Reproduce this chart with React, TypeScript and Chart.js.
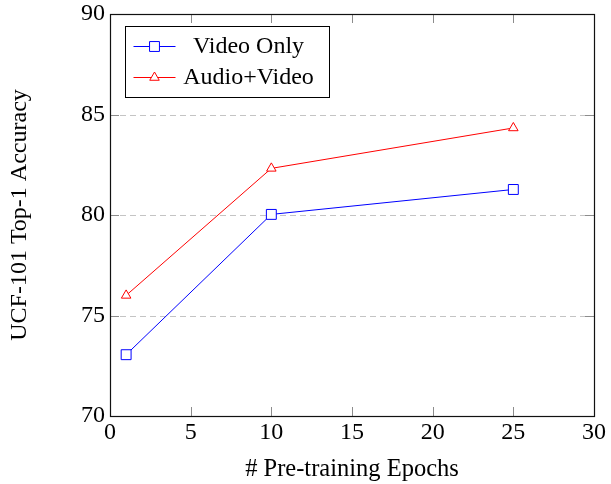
import React, { useEffect, useRef } from "react";
import { Chart, registerables } from "chart.js";
import { drawPoint } from "chart.js/helpers";

Chart.register(...registerables);

const epochs = [1, 10, 25];
const videoOnly = [73.05, 80.03, 81.27];
const audioVideo = [76.0, 82.32, 84.33];
const seriesLabels = ["Video Only", "Audio+Video"];
const xTitle = "# Pre-training Epochs";
const yTitle = "UCF-101 Top-1 Accuracy";

const FONT = '"Liberation Serif", "Times New Roman", serif';

const framePlugin = {
  id: "frame",
  beforeDatasetsDraw(chart: any) {
    const { ctx, chartArea, scales } = chart;
    const { left, right, top, bottom } = chartArea;
    const x = scales.x;
    const y = scales.y;
    ctx.save();
    ctx.lineWidth = 1;
    ctx.strokeStyle = "#c4c4c4";
    ctx.setLineDash([6, 4]);
    y.ticks.forEach((t: any) => {
      if (t.value <= y.min || t.value >= y.max) return;
      const py = Math.round(y.getPixelForValue(t.value)) + 0.5;
      ctx.beginPath();
      ctx.moveTo(left, py);
      ctx.lineTo(right, py);
      ctx.stroke();
    });
    ctx.setLineDash([]);
    ctx.strokeStyle = "#8c8c8c";
    const tl = 9;
    x.ticks.forEach((t: any) => {
      if (t.value <= x.min || t.value >= x.max) return;
      const px = Math.round(x.getPixelForValue(t.value)) + 0.5;
      ctx.beginPath();
      ctx.moveTo(px, bottom);
      ctx.lineTo(px, bottom - tl);
      ctx.moveTo(px, top);
      ctx.lineTo(px, top + tl);
      ctx.stroke();
    });
    y.ticks.forEach((t: any) => {
      if (t.value <= y.min || t.value >= y.max) return;
      const py = Math.round(y.getPixelForValue(t.value)) + 0.5;
      ctx.beginPath();
      ctx.moveTo(left, py);
      ctx.lineTo(left + tl, py);
      ctx.moveTo(right, py);
      ctx.lineTo(right - tl, py);
      ctx.stroke();
    });
    ctx.strokeStyle = "#111";
    ctx.lineWidth = 1.2;
    ctx.strokeRect(
      Math.round(left) + 0.5,
      Math.round(top) + 0.5,
      Math.round(right) - Math.round(left),
      Math.round(bottom) - Math.round(top)
    );
    ctx.restore();
  },
  afterDraw(chart: any) {
    const { ctx, chartArea } = chart;
    const bx = Math.round(chartArea.left) + 15.5;
    const by = Math.round(chartArea.top) + 12.5;
    const bw = 204;
    const bh = 71;
    ctx.save();
    ctx.fillStyle = "#fff";
    ctx.fillRect(bx, by, bw, bh);
    ctx.strokeStyle = "#000";
    ctx.lineWidth = 1;
    ctx.strokeRect(bx, by, bw, bh);
    chart.data.datasets.forEach((ds: any, i: number) => {
      const ry = by + 20 + i * 31;
      ctx.strokeStyle = ds.borderColor;
      ctx.lineWidth = 1;
      ctx.beginPath();
      ctx.moveTo(bx + 8, ry);
      ctx.lineTo(bx + 50, ry);
      ctx.stroke();
      ctx.fillStyle = "#fff";
      ctx.strokeStyle = ds.borderColor;
      drawPoint(ctx, { pointStyle: ds.pointStyle, radius: ds.pointRadius, borderWidth: 1, rotation: 0 }, bx + 29, ry);
      ctx.fillStyle = "#000";
      ctx.font = "24px " + FONT;
      ctx.textBaseline = "middle";
      ctx.textAlign = "center";
      ctx.fillText(ds.label, bx + 123, ry);
    });
    ctx.restore();
  },
};

export default function App() {
  const ref = useRef<HTMLCanvasElement | null>(null);
  useEffect(() => {
    if (!ref.current) return;
    const tickFont = { family: FONT, size: 24, lineHeight: 1 };
    const chart = new Chart(ref.current, {
      type: "line",
      data: {
        datasets: [
          {
            label: seriesLabels[0],
            data: epochs.map((e, i) => ({ x: e, y: videoOnly[i] })),
            borderColor: "#0000ff",
            backgroundColor: "#ffffff",
            borderWidth: 1,
            pointStyle: "rect",
            pointRadius: 7,
            pointBorderWidth: 1,
            tension: 0,
          },
          {
            label: seriesLabels[1],
            data: epochs.map((e, i) => ({ x: e, y: audioVideo[i] })),
            borderColor: "#ff0000",
            backgroundColor: "#ffffff",
            borderWidth: 1,
            pointStyle: "triangle",
            pointRadius: 5.5,
            pointBorderWidth: 1,
            tension: 0,
          },
        ],
      },
      options: {
        responsive: false,
        animation: false,
        layout: { padding: { top: 14, right: 17, left: 0, bottom: 0 } },
        plugins: { legend: { display: false }, tooltip: { enabled: false } },
        scales: {
          x: {
            type: "linear",
            min: 0,
            max: 30,
            ticks: { stepSize: 5, font: tickFont, color: "#000", padding: 5, maxRotation: 0 },
            grid: { display: false, drawTicks: false },
            border: { display: false },
            title: {
              display: true,
              text: xTitle,
              font: { family: FONT, size: 24.5, lineHeight: 1.2 },
              color: "#000",
              padding: { top: 0, bottom: 0 },
            },
            afterFit: (s: any) => {
              s.height = 68;
              s.paddingLeft = 0;
              s.paddingRight = 0;
            },
          },
          y: {
            type: "linear",
            min: 70,
            max: 90,
            ticks: { stepSize: 5, font: tickFont, color: "#000", padding: 5 },
            grid: { display: false, drawTicks: false },
            border: { display: false },
            title: {
              display: true,
              text: yTitle,
              font: { family: FONT, size: 24, lineHeight: 1.2 },
              color: "#000",
              padding: { top: 5, bottom: 0 },
            },
            afterFit: (s: any) => {
              s.width = 110;
              s.paddingTop = 0;
              s.paddingBottom = 0;
            },
          },
        },
      } as any,
      plugins: [framePlugin],
    });
    return () => chart.destroy();
  }, []);
  return (
    <div style={{ position: "fixed", left: 0, top: 0, width: 611, height: 484, background: "#fff" }}>
      <canvas ref={ref} width={611} height={484} style={{ display: "block" }} />
    </div>
  );
}
